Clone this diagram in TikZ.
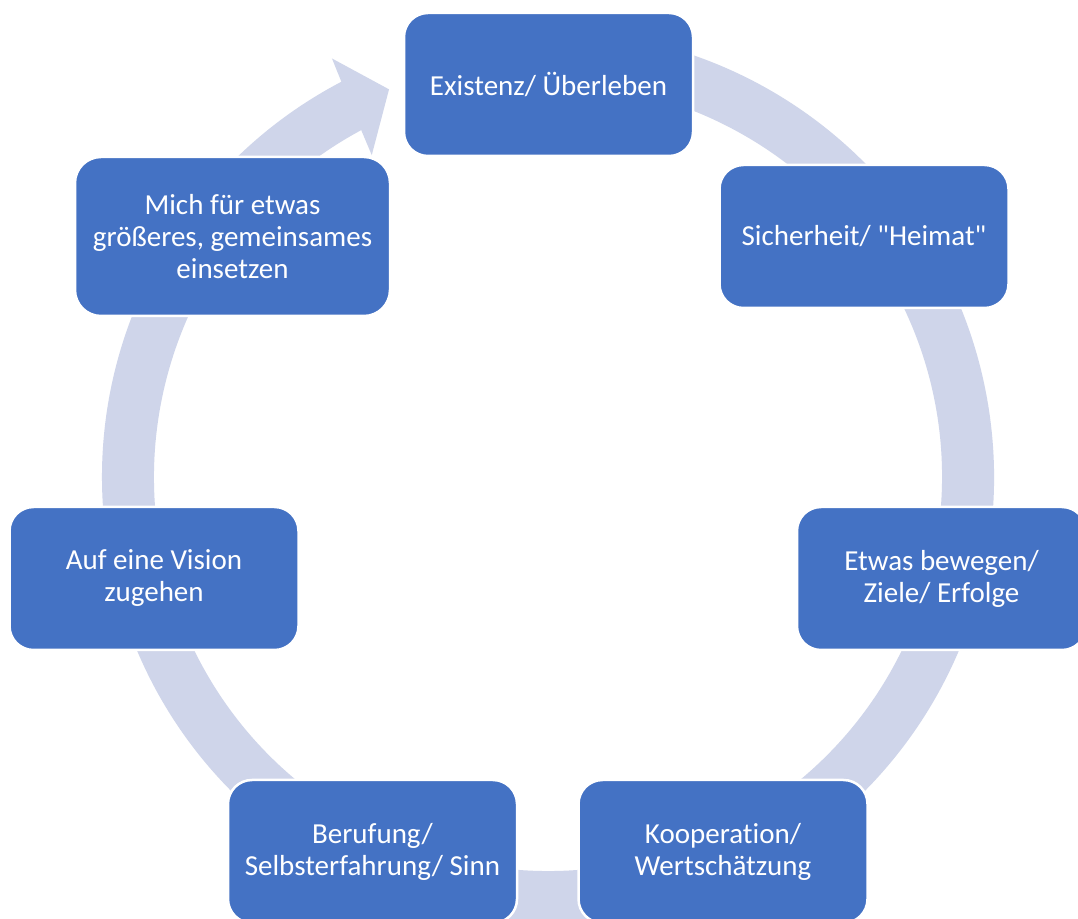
\documentclass[tikz,border=0pt]{standalone}
\usepackage{fontspec}
\setmainfont{Carlito}[Ligatures={TeXOff,NoCommon}]
\definecolor{boxblue}{HTML}{4472C4}
\definecolor{ringcol}{HTML}{CFD5EA}
\tikzset{
  cyclebox/.style={draw=white, line width=2.5pt, fill=boxblue, text=white,
    rounded corners=24pt, align=center, inner sep=0pt,
    minimum width=289pt, minimum height=143pt,
    font=\fontsize{29}{32}\selectfont},
  ringfill/.style={fill=ringcol, draw=none}
}
\begin{document}
\begin{tikzpicture}[x=1pt,y=1pt]
\useasboundingbox (0,0) rectangle (1078,918);
\clip (0,0) rectangle (1078,918);
\fill[white] (0,0) rectangle (1078,918);
\coordinate (C) at (548,441);
% circular arrow
\begin{scope}[shift={(C)}]
\path[ringfill] (100:446) arc[start angle=100, end angle=-242.4, radius=446]
  -- (117.3:471) -- (112.3:419) -- (118.7:367) -- (118.3:394)
  arc[start angle=118.3, end angle=460, radius=394] -- cycle;
\end{scope}
% boxes
\node[cyclebox] (n1) at (548.5,833.5) {Existenz/ Überleben};
\node[cyclebox] (n2) at (864,681.5) {Sicherheit/ "Heimat"};
\node[cyclebox] (n3) at (941.5,339.5) {Etwas bewegen/\\Ziele/ Erfolge};
\node[cyclebox] (n4) at (723,66.5) {Kooperation/\\Wertschätzung};
\node[cyclebox] (n5) at (372.5,66.5) {Berufung/\\Selbsterfahrung/ Sinn};
\node[cyclebox] (n6) at (154,339.5) {Auf eine Vision\\zugehen};
\node[cyclebox, minimum width=315pt, minimum height=159pt, rounded corners=26pt] (n7) at (232.5,681.5) {Mich für etwas\\größeres, gemeinsames\\einsetzen};
\end{tikzpicture}
\end{document}
